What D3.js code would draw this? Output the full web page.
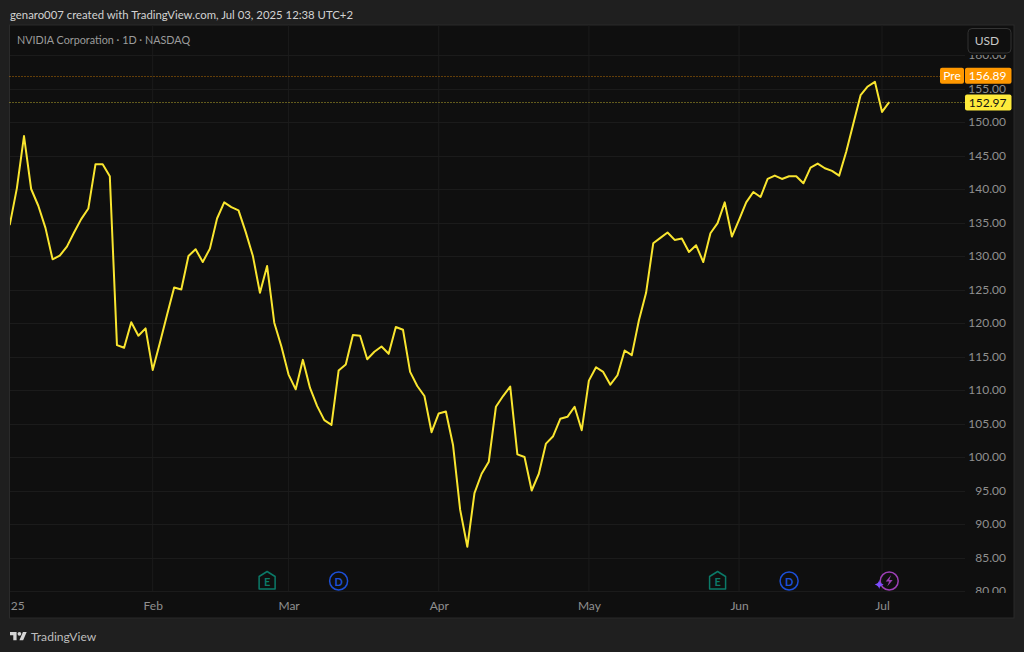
<!DOCTYPE html>
<html>
<head>
<meta charset="utf-8">
<script src="https://cdn.jsdelivr.net/npm/d3@7"></script>
<style>
  html, body { margin: 0; padding: 0; background: #1f1f1f; overflow: hidden; }
  svg { display: block; }
  text { font-family: Lato, "Open Sans", sans-serif; }
</style>
</head>
<body>
<div id="chart"></div>
<script>
// Closing prices, one per trading day from Jan 2 to Jul 2 2025
const closes = [
  134.6, 140.1, 147.9, 140.0, 137.5, 134.2, 129.5, 130.05, 131.4, 133.5,
  135.5, 137.1, 143.7, 143.7, 141.9, 116.7, 116.3, 120.1, 118.1, 119.2,
  113.0, 117.0, 121.2, 125.3, 125.0, 130.0, 131.0, 129.1, 131.1, 135.6,
  138.0, 137.3, 136.8, 133.6, 130.05, 124.5, 128.5, 120.05, 116.5, 112.3,
  110.1, 114.5, 110.3, 107.6, 105.5, 104.8, 112.9, 113.8, 118.2, 118.1,
  114.6, 115.7, 116.5, 115.4, 119.4, 119.0, 112.7, 110.6, 109.1, 103.7,
  106.5, 106.8, 101.8, 92.1, 86.6, 94.6, 97.5, 99.3, 107.5, 109.1,
  110.5, 100.4, 100.0, 95.0, 97.5, 102.0, 103.1, 105.7, 106.0, 107.5,
  104.0, 111.4, 113.4, 112.7, 110.8, 112.2, 115.9, 115.2, 120.4, 124.5,
  131.9, 132.7, 133.5, 132.4, 132.6, 130.6, 131.6, 129.1, 133.4, 134.9,
  138.0, 132.9, 135.4, 138.0, 139.55, 138.8, 141.5, 142.0, 141.5, 141.9,
  141.9, 140.85, 143.2, 143.8, 143.1, 142.7, 142.0, 145.6, 149.8, 154.0,
  155.3, 156.0, 151.5, 152.97
];

// Time axis: position of each month label in trading days
const monthIndex = [0, 20, 39, 60, 81, 102, 122];
const monthLabels = ["25", "Feb", "Mar", "Apr", "May", "Jun", "Jul"];

// Price axis
const priceTicks = d3.range(80, 165, 5);

// Price lines
const lastPrice = 152.97;
const prePrice = 156.89;

// Events under the line
const eventIndex = [36, 46, 99, 109, 123];
const eventTypes = ["E", "D", "E", "D", "flash"];

const width = 1024;
const height = 652;

const pane = { left: 9.5, top: 25, right: 1014, bottom: 618 };
const plotRight = 965;

const colors = {
  pane: "#0f0f0f",
  border: "#2b2b2b",
  grid: "#1b1b1b",
  label: "#8f8f8f",
  line: "#f9e52f",
  badge: "#ffeb3b",
  pre: "#ff9800",
  earnings: "#0b7a68",
  dividend: "#1c4fd6",
  flash: "#9c3fb5",
  sparkle: "#7c4dff",
};

const svg = d3.select("#chart").append("svg")
  .attr("width", width)
  .attr("height", height)
  .attr("viewBox", [0, 0, width, height]);

const scaleX = d3.scaleLinear().domain([0, 123]).range([9.7, 889.2]);
const scaleY = d3.scaleLinear().domain([80, 160]).range([591, 55]);

// Pane
svg.append("rect")
  .attr("x", pane.left)
  .attr("y", pane.top)
  .attr("width", pane.right - pane.left)
  .attr("height", pane.bottom - pane.top)
  .attr("fill", colors.pane)
  .attr("stroke", colors.border);

const defs = svg.append("defs");
defs.append("clipPath").attr("id", "clip-plot").append("rect")
  .attr("x", pane.left + 0.5).attr("y", pane.top)
  .attr("width", plotRight - pane.left).attr("height", 591 - pane.top + 1);
defs.append("clipPath").attr("id", "clip-price").append("rect")
  .attr("x", plotRight).attr("y", 55)
  .attr("width", pane.right - plotRight).attr("height", 593 - 55);

// Grid
const gridX = svg.append("g").attr("clip-path", "url(#clip-plot)");
gridX.selectAll("line.v")
  .data(monthIndex.slice(1))
  .join("line")
  .attr("class", "v")
  .attr("x1", (d) => scaleX(d))
  .attr("x2", (d) => scaleX(d))
  .attr("y1", pane.top)
  .attr("y2", 591)
  .attr("stroke", colors.grid);
gridX.selectAll("line.h")
  .data(priceTicks)
  .join("line")
  .attr("class", "h")
  .attr("x1", pane.left)
  .attr("x2", plotRight)
  .attr("y1", (d) => Math.round(scaleY(d)) + 0.5)
  .attr("y2", (d) => Math.round(scaleY(d)) + 0.5)
  .attr("stroke", colors.grid);

// Price axis
const yAxis = svg.append("g")
  .attr("clip-path", "url(#clip-price)")
  .append("g")
  .attr("transform", "translate(1006, 0)")
  .call(d3.axisLeft(scaleY).tickValues(priceTicks).tickSize(0).tickPadding(0).tickFormat(d3.format(".2f")))
  .call((g) => g.select(".domain").remove());
yAxis.selectAll("text")
  .attr("fill", colors.label)
  .style("font-size", "12px");

// Time axis
const xAxis = svg.append("g")
  .attr("transform", "translate(0, 593)")
  .call(d3.axisBottom(scaleX).tickValues(monthIndex).tickSize(0).tickPadding(8)
    .tickFormat((d, i) => monthLabels[i]))
  .call((g) => g.select(".domain").remove());
xAxis.selectAll("text")
  .attr("fill", colors.label)
  .style("font-size", "12px")
  .attr("text-anchor", (d, i) => (i === 0 ? "start" : "middle"))
  .attr("dx", (d, i) => (i === 0 ? 0.5 : 0));

// Dotted price lines
svg.append("line")
  .attr("x1", pane.left).attr("x2", 940)
  .attr("y1", Math.round(scaleY(prePrice)) + 0.5).attr("y2", Math.round(scaleY(prePrice)) + 0.5)
  .attr("stroke", colors.pre).attr("stroke-opacity", 0.7).attr("stroke-dasharray", "1 2");
svg.append("line")
  .attr("x1", pane.left).attr("x2", plotRight)
  .attr("y1", Math.round(scaleY(lastPrice)) + 0.5).attr("y2", Math.round(scaleY(lastPrice)) + 0.5)
  .attr("stroke", colors.badge).attr("stroke-opacity", 0.7).attr("stroke-dasharray", "1 2");

// Line
const lineGenerator = d3.line()
  .x((d, i) => scaleX(i))
  .y((d) => scaleY(d));

svg.append("path")
  .attr("clip-path", "url(#clip-plot)")
  .attr("d", lineGenerator(closes))
  .attr("fill", "none")
  .attr("stroke", colors.line)
  .attr("stroke-width", 2)
  .attr("stroke-linejoin", "round");

// Price badges
const preY = scaleY(prePrice);
const lastY = scaleY(lastPrice);

svg.append("rect")
  .attr("x", 940).attr("y", preY - 8).attr("width", 24).attr("height", 16).attr("rx", 2)
  .attr("fill", colors.pre);
svg.append("rect")
  .attr("x", 965).attr("y", preY - 8).attr("width", 46.5).attr("height", 16).attr("rx", 2)
  .attr("fill", colors.pre);
svg.append("text")
  .attr("x", 952).attr("y", preY + 4.5).attr("text-anchor", "middle")
  .attr("fill", "#ffffff").style("font-size", "12px").text("Pre");
svg.append("text")
  .attr("x", 1006.5).attr("y", preY + 4.5).attr("text-anchor", "end")
  .attr("fill", "#ffffff").style("font-size", "12px").text(prePrice.toFixed(2));

svg.append("rect")
  .attr("x", 965).attr("y", lastY - 7.5).attr("width", 46.5).attr("height", 16).attr("rx", 2)
  .attr("fill", colors.badge);
svg.append("text")
  .attr("x", 1006.5).attr("y", lastY + 4.5).attr("text-anchor", "end")
  .attr("fill", "#131313").style("font-size", "12px").text(lastPrice.toFixed(2));

// USD button
svg.append("rect")
  .attr("x", 968).attr("y", 28.5).attr("width", 43).attr("height", 24.5).attr("rx", 4)
  .attr("fill", colors.pane).attr("stroke", "#333333");
svg.append("text")
  .attr("x", 987).attr("y", 45).attr("text-anchor", "middle")
  .attr("fill", "#c8c8c8").style("font-size", "12px").text("USD");

// Events
const eventY = 581;
const events = svg.selectAll("g.event")
  .data(eventIndex)
  .join("g")
  .attr("class", "event")
  .attr("transform", (d) => `translate(${scaleX(d)}, ${eventY})`);

events.each(function (d, i) {
  const g = d3.select(this);
  const type = eventTypes[i];
  if (type === "E") {
    g.append("path")
      .attr("d", "M-8,-4.5 L0,-9.5 L8,-4.5 L8,8 L-8,8 Z")
      .attr("fill", "none")
      .attr("stroke", colors.earnings)
      .attr("stroke-width", 1.5)
      .attr("stroke-linejoin", "round");
    g.append("text")
      .attr("y", 4.5).attr("text-anchor", "middle")
      .attr("fill", colors.earnings)
      .style("font-size", "11px").style("font-weight", "700").text("E");
  } else if (type === "D") {
    g.append("circle")
      .attr("r", 9)
      .attr("fill", "none")
      .attr("stroke", colors.dividend)
      .attr("stroke-width", 1.5);
    g.append("text")
      .attr("y", 4.5).attr("text-anchor", "middle")
      .attr("fill", colors.dividend)
      .style("font-size", "11px").style("font-weight", "700").text("D");
  } else {
    g.append("circle")
      .attr("r", 9)
      .attr("fill", "none")
      .attr("stroke", colors.flash)
      .attr("stroke-width", 1.5);
    g.append("path")
      .attr("d", "M2,-6 L-3.5,0.5 L0,0.5 L-2,5.5 L3.5,-1 L0,-1 Z")
      .attr("fill", colors.flash);
    g.append("path")
      .attr("d", "M-10,-1 Q-9.5,2.5 -5.5,3.5 Q-9.5,4.5 -10,8 Q-10.5,4.5 -14.5,3.5 Q-10.5,2.5 -10,-1 Z")
      .attr("fill", colors.sparkle);
  }
});

// Texts
svg.append("text")
  .attr("x", 10).attr("y", 19)
  .attr("fill", "#d2d2d2")
  .style("font-size", "11.35px")
  .text("genaro007 created with TradingView.com, Jul 03, 2025 12:38 UTC+2");

svg.append("text")
  .attr("x", 17).attr("y", 44)
  .attr("fill", "#9c9c9c")
  .style("font-size", "10.8px")
  .text("NVIDIA Corporation · 1D · NASDAQ");

// TradingView mark
svg.append("path")
  .attr("transform", "translate(10, 630) scale(0.47)")
  .attr("d", "M14 22H7V11H0V4h14v18zM28 22h-8l7.5-18h8L28 22z")
  .attr("fill", "#d6d6d6");
svg.append("circle")
  .attr("transform", "translate(10, 630) scale(0.47)")
  .attr("cx", 20).attr("cy", 8).attr("r", 4)
  .attr("fill", "#d6d6d6");
svg.append("text")
  .attr("x", 31).attr("y", 641)
  .attr("fill", "#bdbdbd")
  .style("font-size", "12.1px")
  .text("TradingView");
</script>
</body>
</html>
